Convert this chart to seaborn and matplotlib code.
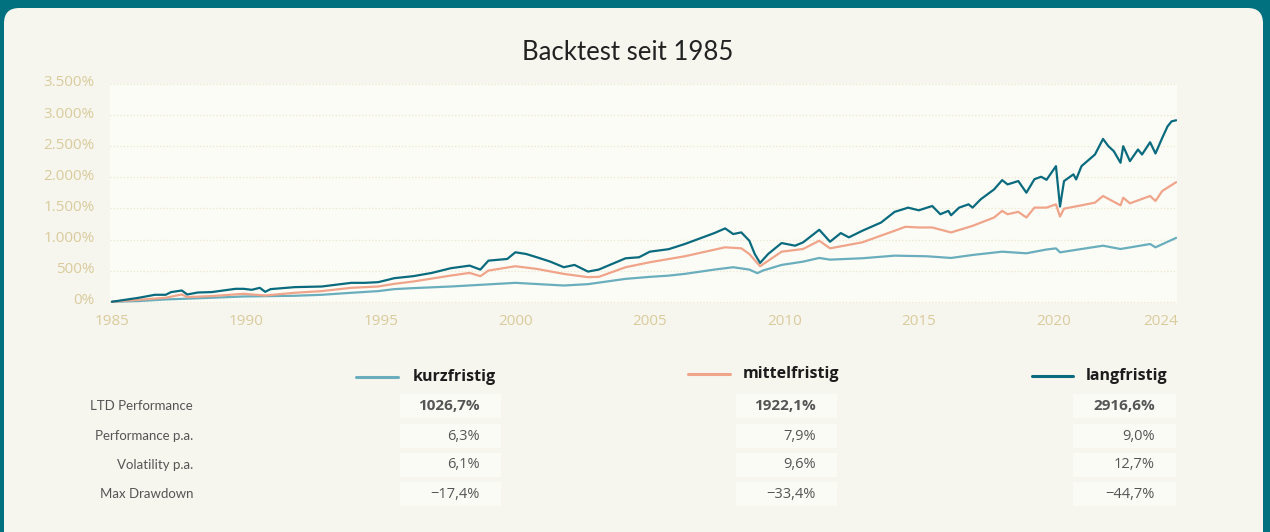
import pandas as pd
import numpy as np
import matplotlib.pyplot as plt
import matplotlib.transforms as mtransforms
import seaborn as sns
from matplotlib.patches import FancyBboxPatch, Rectangle
from matplotlib.ticker import FuncFormatter

# Data (cumulative performance in %, by decimal year)
lang_years = [1985.0, 1985.5, 1986.0, 1986.6, 1987.0, 1987.2, 1987.6, 1987.8, 1988.2, 1988.7,
              1989.6, 1989.9, 1990.2, 1990.5, 1990.7, 1990.9, 1991.8, 1992.8, 1993.3, 1993.9,
              1994.4, 1994.9, 1995.3, 1995.5, 1996.2, 1996.9, 1997.6, 1998.3, 1998.7, 1999.0,
              1999.7, 2000.0, 2000.4, 2000.8, 2001.3, 2001.8, 2002.2, 2002.7, 2003.1, 2003.6,
              2004.1, 2004.6, 2005.0, 2005.7, 2006.3, 2007.4, 2007.8, 2008.1, 2008.4, 2008.7,
              2008.9, 2009.1, 2009.4, 2009.9, 2010.4, 2010.7, 2011.3, 2011.7, 2012.1, 2012.4,
              2012.9, 2013.6, 2014.1, 2014.5, 2014.6, 2015.0, 2015.5, 2015.8, 2016.1, 2016.2,
              2016.5, 2016.85, 2017.0, 2017.3, 2017.8, 2018.1, 2018.3, 2018.7, 2019.0, 2019.3,
              2019.55, 2019.75, 2020.1, 2020.25, 2020.4, 2020.75, 2020.85, 2021.05, 2021.55, 2021.85,
              2022.05, 2022.25, 2022.5, 2022.6, 2022.85, 2023.15, 2023.3, 2023.6, 2023.8, 2024.05,
              2024.25, 2024.4, 2024.57]
langfristig = [0, 32, 64, 112, 112, 155, 181, 117, 149, 155,
               208, 208, 192, 224, 160, 203, 235, 245, 272, 304,
               304, 315, 357, 379, 411, 464, 539, 581, 517, 661,
               688, 795, 768, 715, 645, 555, 592, 485, 517, 608,
               699, 715, 805, 845, 928, 1104, 1179, 1088, 1115, 981,
               768, 624, 768, 944, 901, 955, 1157, 965, 1104, 1035,
               1141, 1274, 1445, 1498, 1513, 1470, 1539, 1407, 1461, 1390,
               1513, 1566, 1513, 1646, 1806, 1955, 1886, 1940, 1753, 1970,
               2009, 1960, 2180, 1530, 1940, 2048, 1966, 2180, 2367, 2617,
               2500, 2420, 2234, 2500, 2260, 2447, 2367, 2564, 2383, 2633,
               2820, 2900, 2917]

mittel_years = [1985.0, 1986.0, 1987.0, 1987.6, 1987.8, 1988.7, 1989.9, 1990.7, 1991.8, 1992.8,
                1993.9, 1994.9, 1995.5, 1996.2, 1997.6, 1998.3, 1998.7, 1999.0, 2000.0, 2000.8,
                2001.8, 2002.7, 2003.1, 2004.1, 2005.0, 2006.3, 2007.4, 2007.8, 2008.4, 2008.7,
                2009.1, 2009.9, 2010.7, 2011.3, 2011.7, 2012.9, 2014.1, 2014.5, 2015.0, 2015.5,
                2016.2, 2017.0, 2017.8, 2018.1, 2018.3, 2018.7, 2019.0, 2019.3, 2019.75, 2020.1,
                2020.25, 2020.4, 2021.05, 2021.55, 2021.85, 2022.5, 2022.6, 2022.85, 2023.6, 2023.8,
                2024.05, 2024.57]
mittelfristig = [0, 32, 64, 117, 75, 91, 128, 101, 144, 171,
                 224, 245, 288, 325, 421, 464, 411, 501, 571, 528,
                 448, 395, 400, 555, 635, 731, 837, 875, 859, 768,
                 571, 805, 848, 981, 859, 955, 1141, 1205, 1194, 1194,
                 1114, 1220, 1354, 1461, 1407, 1445, 1354, 1513, 1513, 1566,
                 1370, 1497, 1550, 1593, 1700, 1550, 1673, 1582, 1700, 1620,
                 1780, 1922]

kurz_years = [1985.0, 1986.0, 1987.0, 1988.7, 1989.9, 1991.8, 1992.8, 1993.9, 1994.9, 1995.5,
              1996.2, 1997.6, 2000.0, 2001.8, 2002.7, 2004.1, 2005.0, 2005.7, 2006.3, 2007.4,
              2008.1, 2008.7, 2009.0, 2009.2, 2009.9, 2010.7, 2011.3, 2011.7, 2012.9, 2014.1,
              2015.3, 2016.2, 2017.0, 2018.1, 2019.0, 2019.75, 2020.1, 2020.25, 2021.05, 2021.85,
              2022.5, 2023.6, 2023.8, 2024.57]
kurzfristig = [0, 11, 37, 64, 85, 96, 112, 144, 171, 203,
               219, 245, 304, 261, 283, 368, 400, 420, 448, 517,
               555, 517, 459, 501, 592, 645, 704, 677, 699, 741,
               731, 704, 752, 805, 779, 840, 858, 794, 848, 901,
               848, 928, 875, 1027]

strategies = ['kurzfristig', 'mittelfristig', 'langfristig']
colors = ['#6aaebd', '#f0a48a', '#0b6b7e']
row_labels = ['LTD Performance', 'Performance p.a.', 'Volatility p.a.', 'Max Drawdown']
table_values = {
    'kurzfristig': ['1026,7%', '6,3%', '6,1%', '\u221217,4%'],
    'mittelfristig': ['1922,1%', '7,9%', '9,6%', '\u221233,4%'],
    'langfristig': ['2916,6%', '9,0%', '12,7%', '\u221244,7%'],
}
xticks = [1985, 1990, 1995, 2000, 2005, 2010, 2015, 2020, 2024]
yticks = [0, 500, 1000, 1500, 2000, 2500, 3000, 3500]

df_long = pd.concat([
    pd.DataFrame({'year': kurz_years, 'perf': kurzfristig, 'strategy': 'kurzfristig'}),
    pd.DataFrame({'year': mittel_years, 'perf': mittelfristig, 'strategy': 'mittelfristig'}),
    pd.DataFrame({'year': lang_years, 'perf': langfristig, 'strategy': 'langfristig'}),
], ignore_index=True)

W, H = 1270, 532
TEAL = '#02717f'
CARD = '#f6f6ee'
TICK = '#d9cb9c'

sns.set_theme(style='white')
plt.rcParams['font.family'] = ['Lato', 'DejaVu Sans']

fig = plt.figure(figsize=(W / 100, H / 100), dpi=100)
fig.patch.set_facecolor(TEAL)


def px(x, y):
    return x / W, 1 - y / H


# card
card = FancyBboxPatch(px(4, 560), (1263 - 4) / W, (560 - 8) / H,
                      boxstyle='round,pad=0,rounding_size=0.012',
                      transform=fig.transFigure, facecolor=CARD, edgecolor='none',
                      mutation_aspect=W / H, zorder=-5)
fig.patches.append(card)

ax = fig.add_axes([110 / W, 1 - 303 / H, (1177 - 110) / W, (303 - 84) / H])
ax.set_facecolor('#fbfcf6')
ax.set_zorder(2)

sns.lineplot(data=df_long, x='year', y='perf', hue='strategy', hue_order=strategies,
             palette=colors, linewidth=1.6, ax=ax, legend=False, sort=False)

ax.set_xlim(1984.93, 2024.6)
ax.set_ylim(-20, 3500)
ax.set_xticks(xticks)
ax.set_yticks(yticks)
ax.yaxis.set_major_formatter(FuncFormatter(lambda v, p: f'{v:,.0f}%'.replace(',', '.')))
ax.tick_params(axis='both', length=0, colors=TICK, labelsize=11)
ax.tick_params(axis='y', pad=11)
ax.tick_params(axis='x', pad=8)
shift = mtransforms.ScaledTranslation(0, 3 / 100, fig.dpi_scale_trans)
for lab in ax.get_yticklabels():
    lab.set_transform(lab.get_transform() + shift)
for lab in ax.get_xticklabels() + ax.get_yticklabels():
    lab.set_fontfamily(['Open Sans', 'DejaVu Sans'])
ax.grid(axis='y', color='#ece7cf', linestyle=':', linewidth=0.9)
ax.set_xlabel('')
ax.set_ylabel('')
for s in ax.spines.values():
    s.set_visible(False)

fig.text(*px(628, 53), 'Backtest seit 1985', ha='center', va='center',
         fontsize=18.5, color='#222222')

# table below the chart
line_x = [(356, 398), (688, 730), (1032, 1073)]
head_x = [413, 743, 1086]
head_y = [377, 374, 376]
box_x = [(400, 501), (736, 837), (1073, 1176)]
row_y = [406, 436, 465, 494]
num_font = ['Open Sans', 'DejaVu Sans']

for i, name in enumerate(strategies):
    x0, x1 = line_x[i]
    fig.add_artist(plt.Line2D([x0 / W, x1 / W], [1 - head_y[i] / H] * 2,
                              color=colors[i], linewidth=2.2, transform=fig.transFigure))
    fig.text(*px(head_x[i], head_y[i]), name, ha='left', va='center', family=num_font,
             fontsize=11.5, fontweight='bold', color='#1c1c1c')
    b0, b1 = box_x[i]
    for j, val in enumerate(table_values[name]):
        fig.patches.append(Rectangle(px(b0, row_y[j] + 12), (b1 - b0) / W, 24 / H,
                                     transform=fig.transFigure, facecolor='#fbfbf6',
                                     edgecolor='none', zorder=1))
        fig.text(*px(b1 - 21, row_y[j]), val, ha='right', va='center', family=num_font,
                 fontsize=11 if j == 0 else 10.5,
                 fontweight='bold' if j == 0 else 'normal', color='#555555')

for j, lab in enumerate(row_labels):
    fig.text(*px(193, row_y[j]), lab, ha='right', va='center', fontsize=9.5, color='#555555')

fig.savefig('out.png', dpi=100, facecolor=fig.get_facecolor())
